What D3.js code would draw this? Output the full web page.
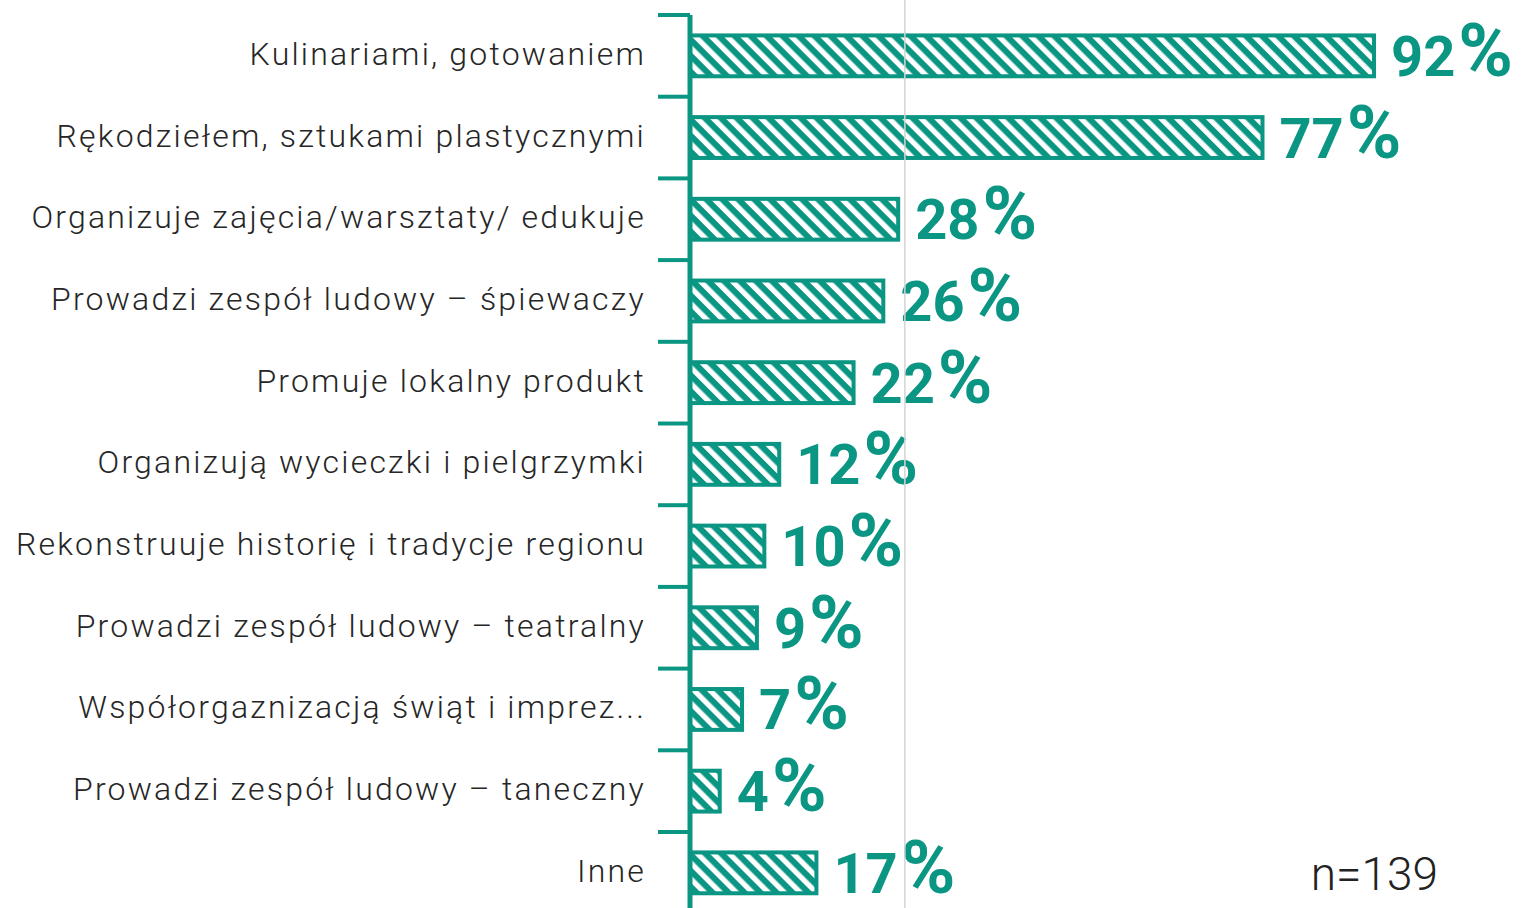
<!DOCTYPE html>
<html>
<head>
<meta charset="utf-8">
<script src="https://cdn.jsdelivr.net/npm/d3@7"></script>
<style>
  html, body { margin: 0; padding: 0; background: #fff; overflow: hidden; }
  .cat { font-family: Roboto, sans-serif; font-weight: 300; fill: #262626; letter-spacing: 2.2px; }
  .val { font-family: Roboto, sans-serif; font-weight: 700; fill: #0a9683; }
  .note { font-family: Roboto, sans-serif; font-weight: 300; fill: #222; }
</style>
</head>
<body>
<div id="chart"></div>
<script>
const categories = [
    "Kulinariami, gotowaniem",
    "Rękodziełem, sztukami plastycznymi",
    "Organizuje zajęcia/warsztaty/ edukuje",
    "Prowadzi zespół ludowy – śpiewaczy",
    "Promuje lokalny produkt",
    "Organizują wycieczki i pielgrzymki",
    "Rekonstruuje historię i tradycje regionu",
    "Prowadzi zespół ludowy – teatralny",
    "Współorgaznizacją świąt i imprez...",
    "Prowadzi zespół ludowy – taneczny",
    "Inne"
];
const values = [92, 77, 28, 26, 22, 12, 10, 9, 7, 4, 17];
const gridValues = [28.9];
const sampleNote = "n=139";

const width = 1522, height = 908;
const teal = "#0a9683";
const axisX = 690;

const svg = d3.select("#chart")
              .append("svg")
              .attr("width", width)
              .attr("height", height);

// hatch pattern
const pattern = svg.append("defs")
                   .append("pattern")
                   .attr("id", "hatch")
                   .attr("patternUnits", "userSpaceOnUse")
                   .attr("width", 11.3)
                   .attr("height", 11.3)
                   .attr("patternTransform", "rotate(-45)");
pattern.append("rect")
       .attr("width", 11.3).attr("height", 11.3)
       .attr("fill", teal);
pattern.append("rect")
       .attr("x", 0).attr("width", 5.2).attr("height", 11.3)
       .attr("fill", "#fff");

const x = d3.scaleLinear()
            .domain([0, 100])
            .range([axisX, axisX + 743.5]);

const y = d3.scaleBand()
            .domain(categories)
            .range([15, 913.7])
            .paddingInner(0.5)
            .paddingOuter(0.25);

const step = y.step();

// bars
svg.selectAll("rect.bar")
   .data(values)
   .enter()
   .append("rect")
      .attr("class", "bar")
      .attr("x", x(0))
      .attr("y", (d, i) => y(categories[i]))
      .attr("width", d => x(d) - x(0))
      .attr("height", y.bandwidth())
      .attr("fill", "url(#hatch)")
      .attr("stroke", teal)
      .attr("stroke-width", 4);

// axis line + ticks between categories
svg.append("line")
   .attr("x1", axisX).attr("x2", axisX)
   .attr("y1", y.range()[0]).attr("y2", height)
   .attr("stroke", teal)
   .attr("stroke-width", 5);

svg.selectAll("line.tick")
   .data(categories)
   .enter()
   .append("line")
      .attr("class", "tick")
      .attr("x1", axisX - 32).attr("x2", axisX)
      .attr("y1", d => y(d) - step * 0.25)
      .attr("y2", d => y(d) - step * 0.25)
      .attr("stroke", teal)
      .attr("stroke-width", 4);

// category labels
svg.selectAll("text.cat")
   .data(categories)
   .enter()
   .append("text")
      .attr("class", "cat")
      .attr("x", axisX - 44)
      .attr("y", d => y(d) + y.bandwidth() / 2 + 9)
      .attr("text-anchor", "end")
      .style("font-size", "32px")
      .text(d => d);

// value labels
const val = svg.selectAll("text.val")
   .data(values)
   .enter()
   .append("text")
      .attr("class", "val")
      .attr("x", d => x(d) + 17)
      .attr("y", (d, i) => y(categories[i]) + y.bandwidth() / 2 + 20);
val.append("tspan").style("font-size", "56px").text(d => d);
val.append("tspan").attr("dx", 3).style("font-size", "74px").text("%");

// light grid line (on top, as in the original)
svg.selectAll("line.grid")
   .data(gridValues)
   .enter()
   .append("line")
      .attr("class", "grid")
      .attr("x1", d => x(d)).attr("x2", d => x(d))
      .attr("y1", 0).attr("y2", height)
      .attr("stroke", "#d4d4d4")
      .attr("stroke-width", 1.5);

svg.append("text")
   .attr("class", "note")
   .attr("x", 1438)
   .attr("y", 890)
   .attr("text-anchor", "end")
   .style("font-size", "46px")
   .text(sampleNote);
</script>
</body>
</html>
